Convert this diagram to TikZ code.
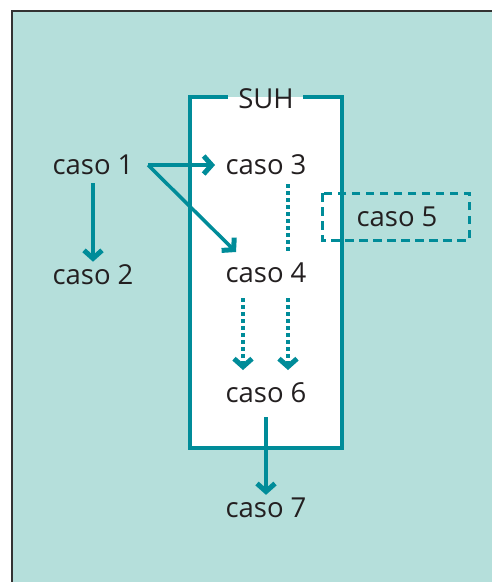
\documentclass[tikz,border=0pt]{standalone}
\usepackage{fontspec}
\setmainfont{Open Sans}
\usetikzlibrary{arrows.meta}
\definecolor{teal}{HTML}{008C99}
\definecolor{mint}{HTML}{B5DFDB}
\definecolor{ink}{HTML}{231F20}
\definecolor{frame}{HTML}{333333}
\tikzset{
  label/.style={font=\fontsize{27.5}{30}\selectfont, text=ink, inner sep=3pt},
  tip/.style={-{Straight Barb[length=8pt,width=18pt,line width=5pt]}},
  solidarrow/.style={draw=teal, line width=3.5pt, tip},
  dottedarrow/.style={draw=teal, line width=4.5pt, dash pattern=on 4pt off 3pt, tip},
  dottedline/.style={draw=teal, line width=4.5pt, dash pattern=on 4pt off 3pt},
  dashbox/.style={draw=teal, line width=3pt, dash pattern=on 8.5pt off 5.5pt},
}
\begin{document}
\begin{tikzpicture}[x=1pt,y=-1pt]
\useasboundingbox (0,0) rectangle (492,582);
% panel
\fill[mint] (12,11) rectangle (492,582);
\draw[frame, line width=2.5pt] (12,582) -- (12,11) -- (492,11);
% SUH box
\fill[white] (190,97) rectangle (342,448);
\draw[teal, line width=3.5pt] (228,97) -- (190,97) -- (190,448) -- (342,448) -- (342,97) -- (303,97);
\node[label] (suh) at (266,99) {SUH};
% cases
\node[label] (c1) at (93,165) {caso 1};
\node[label] (c2) at (93,275) {caso 2};
\node[label] (c3) at (266,165) {caso 3};
\node[label] (c4) at (266,273) {caso 4};
\node[label] (c5) at (397,217) {caso 5};
\node[label] (c6) at (266,393) {caso 6};
\node[label] (c7) at (266,508) {caso 7};
\draw[dashbox] (322,193) rectangle (469,240);
% connector ends
\coordinate (j) at (148,165);
\coordinate (c1s) at (93,183);
\coordinate (c3in) at (215,165);
\coordinate (c4in) at (236,252);
\coordinate (d3a) at (288,184);
\coordinate (d3b) at (288,252);
\coordinate (d4a) at (243,298);
\coordinate (d4b) at (288,298);
\coordinate (d6a) at (243,370);
\coordinate (d6b) at (288,370);
\coordinate (c6s) at (266,417);
% connectors
\draw[solidarrow] (j) -- (c3in);
\draw[solidarrow] (j) -- (c4in);
\draw[solidarrow] (c1s) -- (c2.north);
\draw[dottedline] (d3a) -- (d3b);
\draw[dottedarrow] (d4a) -- (d6a);
\draw[dottedarrow] (d4b) -- (d6b);
\draw[solidarrow] (c6s) -- (c7.north);
\end{tikzpicture}
\end{document}
